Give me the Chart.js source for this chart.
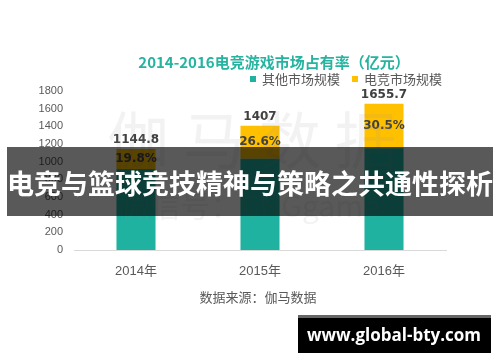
<!DOCTYPE html>
<html>
<head>
<meta charset="utf-8">
<script src="https://cdn.jsdelivr.net/npm/chart.js@4"></script>
<style>
    html, body { margin: 0; padding: 0; background: #fff; }
    #wrap { width: 500px; height: 362px; }
</style>
</head>
<body>
<div id="wrap"><canvas id="marketChart" width="500" height="362"></canvas></div>
<script>
// 2014-2016 esports market share chart

const years = ['2014年', '2015年', '2016年'];
const otherMarket = [918.1, 1032.7, 1150.7];
const esportsMarket = [226.7, 374.3, 505.0];
const yTicks = [0, 200, 400, 600, 800, 1000, 1200, 1400, 1600, 1800];

const TEAL = '#20b2a0';
const GOLD = '#ffc000';
const CJK = '"Noto Sans CJK SC", sans-serif';
const NUM = '"Liberation Sans", "Noto Sans CJK SC", sans-serif';

const overlayPlugin = {
    id: 'overlay',
    afterDraw(chart) {
        const ctx = chart.ctx;
        ctx.save();

        // title
        ctx.fillStyle = '#26b3a0';
        ctx.font = 'bold 15px ' + CJK;
        ctx.textAlign = 'center';
        ctx.textBaseline = 'middle';
        ctx.fillText('2014-2016电竞游戏市场占有率（亿元）', 274, 62);

        // legend
        ctx.font = '13px ' + CJK;
        ctx.textAlign = 'left';
        const legendX = [250, 352];
        chart.data.datasets.forEach((ds, i) => {
            ctx.fillStyle = ds.backgroundColor;
            ctx.fillRect(legendX[i], 76, 6, 6);
            ctx.fillStyle = '#595959';
            ctx.fillText(ds.label, legendX[i] + 12, 79);
        });

        // source
        ctx.textAlign = 'center';
        ctx.fillStyle = '#595959';
        ctx.font = '13px ' + CJK;
        ctx.fillText('数据来源：伽马数据', 258, 297);

        // value labels
        const top = chart.getDatasetMeta(1);
        top.data.forEach((el, i) => {
            const total = otherMarket[i] + esportsMarket[i];
            const share = esportsMarket[i] / total * 100;
            ctx.fillStyle = '#404040';
            ctx.font = 'bold 12px "DejaVu Sans", sans-serif';
            ctx.fillText(String(Number(total.toFixed(1))), el.x, el.y - 9);
            ctx.fillText(share.toFixed(1) + '%', el.x, (el.y + el.base) / 2);
        });

        // watermark
        ctx.fillStyle = 'rgba(150, 150, 150, 0.12)';
        ctx.font = '62px ' + CJK;
        ctx.fillText('伽 马 数 据', 252, 140);
        ctx.font = '30px ' + CJK;
        ctx.fillText('微信号：CNGgame', 250, 206);

        // banner
        ctx.fillStyle = 'rgba(0, 0, 0, 0.65)';
        ctx.fillRect(7, 147, 486, 69);
        ctx.fillStyle = '#ffffff';
        ctx.font = 'bold 27px ' + CJK;
        ctx.fillText('电竞与篮球竞技精神与策略之共通性探析', 250, 184);

        // site box
        ctx.fillStyle = '#666666';
        ctx.fillRect(298, 315, 193, 3);
        ctx.fillStyle = '#000000';
        ctx.fillRect(298, 318, 193, 35);
        ctx.fillStyle = '#ffffff';
        ctx.font = 'bold 17px "Open Sans", sans-serif';
        ctx.fillText('www.global-bty.com', 394, 336);

        ctx.restore();
    }
};

const ctx = document.getElementById('marketChart').getContext('2d');

new Chart(ctx, {
    type: 'bar',
    data: {
        labels: years,
        datasets: [{
            label: '其他市场规模',
            data: otherMarket,
            backgroundColor: TEAL,
            categoryPercentage: 1,
            barPercentage: 0.315
        }, {
            label: '电竞市场规模',
            data: esportsMarket,
            backgroundColor: GOLD,
            categoryPercentage: 1,
            barPercentage: 0.315
        }]
    },
    options: {
        responsive: false,
        animation: false,
        layout: {
            padding: { top: 91, right: 54, left: 0, bottom: 0 }
        },
        plugins: {
            legend: { display: false },
            title: { display: false },
            tooltip: { enabled: false }
        },
        scales: {
            x: {
                stacked: true,
                afterFit: function(scale) { scale.height = 112; },
                grid: { display: false, drawTicks: false },
                border: { display: true, color: '#d9d9d9', width: 1 },
                ticks: {
                    color: '#595959',
                    padding: 14,
                    font: { family: NUM, size: 13 }
                }
            },
            y: {
                stacked: true,
                min: 0,
                max: 1800,
                afterFit: function(scale) { scale.width = 74; },
                afterBuildTicks: function(scale) {
                    scale.ticks = yTicks.map(v => ({ value: v }));
                },
                grid: { display: false, drawTicks: false },
                border: { display: false },
                ticks: {
                    color: '#595959',
                    padding: 11,
                    font: { family: NUM, size: 11 },
                    callback: function(value) {
                        return String(value);
                    }
                }
            }
        }
    },
    plugins: [overlayPlugin]
});
</script>
</body>
</html>
